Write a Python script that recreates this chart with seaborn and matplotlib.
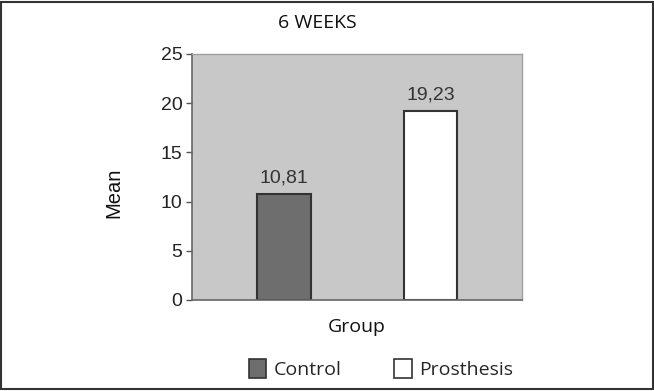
import matplotlib
matplotlib.use("Agg")
import matplotlib.pyplot as plt
import seaborn as sns
import pandas as pd
from matplotlib.patches import Patch, Rectangle

groups = ["Control", "Prosthesis"]
means = [10.81, 19.23]
labels = ["10,81", "19,23"]
colors = ["#6e6e6e", "#ffffff"]
yticks = [0, 5, 10, 15, 20, 25]

sns.set_style("white")
df = pd.DataFrame({"Group": groups, "Mean": means})

fig = plt.figure(figsize=(6.54, 3.91), dpi=100)
ax = fig.add_axes([192/654, 1-300/391, 330/654, 246/391])
sns.barplot(data=df, x="Group", y="Mean", hue="Group", palette=colors,
            width=0.368, edgecolor="#333333", linewidth=1.5, ax=ax, legend=False)
ax.set_facecolor("#c8c8c8")
ax.set_xlim(-0.628, 1.625)
ax.set_ylim(0, 25)
ax.set_yticks(yticks)
ax.set_yticklabels([str(t) for t in yticks], fontfamily="Liberation Sans", fontsize=14, color="#222222")
ax.set_xticks([])
ax.tick_params(axis="y", length=4, width=1, color="#555555", pad=3, left=True)
for s in ["top", "right"]:
    ax.spines[s].set_color("#a0a0a0")
    ax.spines[s].set_linewidth(1)
for s in ["left", "bottom"]:
    ax.spines[s].set_color("#666666")
    ax.spines[s].set_linewidth(1.2)
for i, (m, l) in enumerate(zip(means, labels)):
    ax.annotate(l, (i, m), xytext=(0, 5), textcoords="offset points", ha="center", va="bottom",
                fontfamily="Liberation Sans", fontsize=14, color="#333333")
ax.set_xlabel("Group", fontfamily="Open Sans", fontsize=14, labelpad=13, color="#111111")
ax.set_ylabel("Mean", fontfamily="Liberation Sans", fontsize=14.5, color="#111111")
ax.yaxis.set_label_coords(-0.209, 0.435)
fig.text(317.5/654, 1-23/391, "6 WEEKS", ha="center", va="center", fontfamily="Open Sans", fontsize=14, color="#111111")

handles = [Patch(facecolor=c, edgecolor="#333333", linewidth=1.2, label=g) for g, c in zip(groups, colors)]
fig.legend(handles=handles, loc="center", bbox_to_anchor=(381/654, 1-369/391), ncol=2, frameon=False,
           prop={"family": "Open Sans", "size": 14}, handlelength=0.9, handleheight=1.1,
           handletextpad=0.4, columnspacing=2.7)

fig.add_artist(Rectangle((0.002, 0.006), 0.996, 0.99, transform=fig.transFigure, fill=False,
                         edgecolor="#333333", linewidth=1.5))
fig.savefig("out.png", dpi=100)
